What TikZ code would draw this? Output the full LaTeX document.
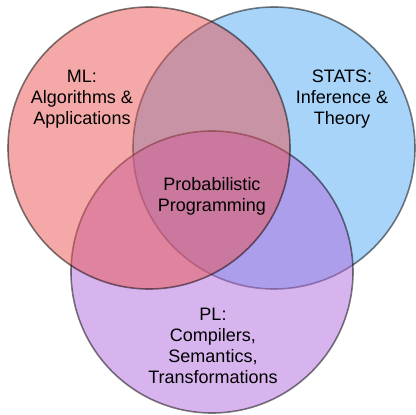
\documentclass[tikz,border=0pt]{standalone}
\usepackage{fontspec}
\setmainfont{Liberation Sans}
\definecolor{mlred}{RGB}{233,83,81}
\definecolor{statsblue}{RGB}{81,169,245}
\definecolor{plpurple}{RGB}{177,105,221}
\begin{document}
\begin{tikzpicture}[x=1pt,y=-1pt,
  cercle/.style={fill opacity=0.5,draw=black,draw opacity=0.5,line width=1.6pt},
  etiquette/.style={align=center,font=\fontsize{18}{21}\selectfont}]

\useasboundingbox (0,0) rectangle (416,415);

% Cercles
\filldraw[cercle,fill=statsblue] (274,148) circle (141);
\filldraw[cercle,fill=plpurple] (212,272) circle (141);
\filldraw[cercle,fill=mlred] (149,148) circle (141);

% Domaines
\node[etiquette] (ml) at (82,99)
{ML:\\Algorithms \&\\Applications};

\node[etiquette] (stats) at (342,99)
{STATS:\\Inference \&\\Theory};

\node[etiquette] (pl) at (213,346)
{PL:\\Compilers,\\Semantics,\\Transformations};

% Centre
\node[etiquette] (pp) at (212,196)
{Probabilistic\\Programming};

\end{tikzpicture}
\end{document}
